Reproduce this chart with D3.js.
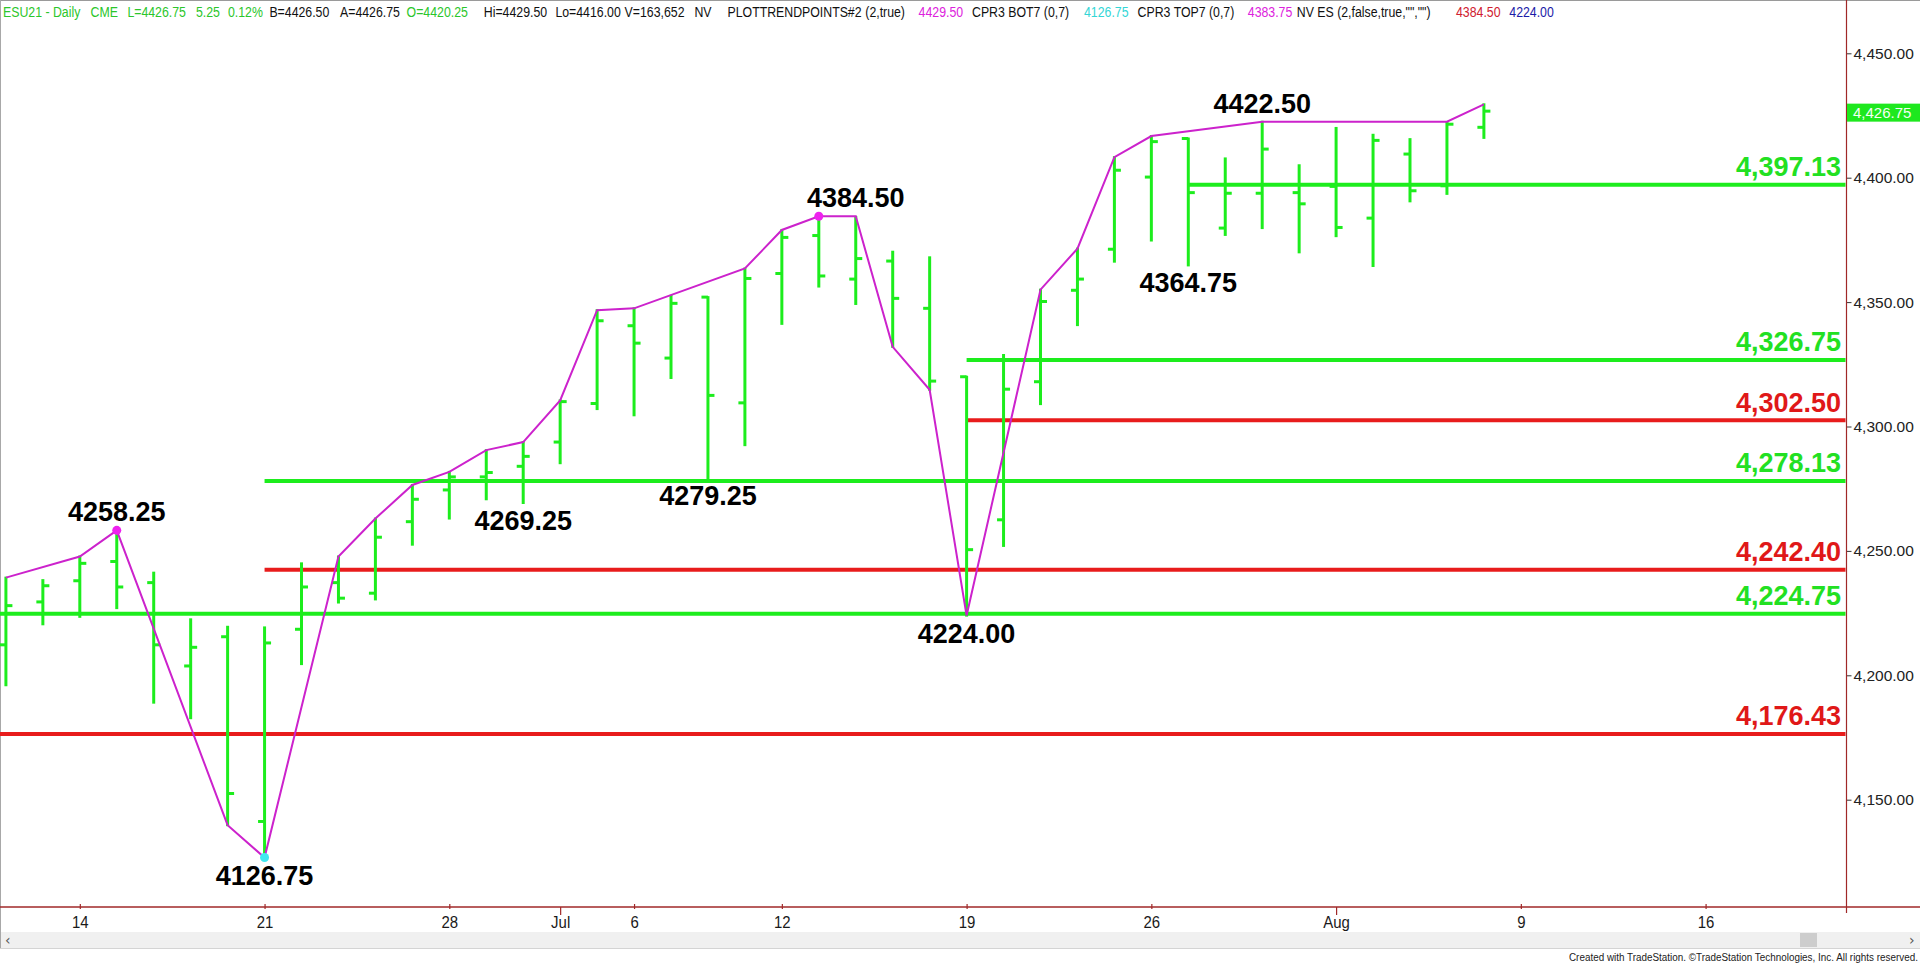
<!DOCTYPE html>
<html><head><meta charset="utf-8">
<script src="https://cdn.jsdelivr.net/npm/d3@7"></script>
<style>html,body{margin:0;padding:0;background:#fff;overflow:hidden}svg{display:block}</style>
</head><body>
<svg id="c" width="1920" height="963"></svg>
<script>
// ---------------- DATA ----------------
const dates = ["Jun 10","Jun 11","Jun 14","Jun 15","Jun 16","Jun 17","Jun 18","Jun 21","Jun 22","Jun 23","Jun 24","Jun 25","Jun 28","Jun 29","Jun 30","Jul 1","Jul 2","Jul 6","Jul 7","Jul 8","Jul 9","Jul 12","Jul 13","Jul 14","Jul 15","Jul 16","Jul 19","Jul 20","Jul 21","Jul 22","Jul 23","Jul 26","Jul 27","Jul 28","Jul 29","Jul 30","Aug 2","Aug 3","Aug 4","Aug 5","Aug 6"];
const opens  = [4212.25,4229.5,4238,4245.75,4237.25,4203.75,4215.5,4141.25,4218.5,4237.25,4233,4261.75,4274.5,4279.75,4284,4293.75,4309.25,4340.5,4327.5,4352,4309.5,4361.5,4376.75,4359.25,4366.5,4347.5,4320,4262.5,4318,4354.75,4371.25,4400.25,4415.75,4379.75,4393.75,4394,4396.5,4383.75,4409.5,4396.75,4420.25];
const highs  = [4239.25,4238.25,4247.75,4258.25,4241.25,4222.5,4219.5,4219.25,4245,4247.75,4263,4276.5,4281.75,4290.5,4293.75,4310.5,4346.75,4347.5,4352.5,4352,4363.5,4379,4384.5,4384.25,4370.25,4368,4320,4328.75,4355,4371.5,4408.25,4416.75,4415.75,4407.75,4422.5,4405,4420,4417.25,4415.5,4422,4429.5];
const lows   = [4196,4220.5,4223.5,4227,4189,4182.75,4139.75,4126.75,4204.5,4229.25,4230.5,4252.5,4263,4270.75,4269.25,4285.25,4307,4304.5,4319.5,4279.25,4292.5,4341.25,4356.25,4349.25,4332,4314.75,4224,4252,4309,4340.75,4366.25,4374.75,4364.75,4377,4379.75,4370,4376.5,4364.5,4390.5,4393.5,4416];
const closes = [4228,4236,4245,4235.5,4212.25,4211.25,4152.5,4213,4235.5,4231,4255.5,4270.75,4279.75,4281.5,4288,4310,4342.5,4333.5,4349.5,4312.5,4359.5,4376,4360.5,4367.5,4351.5,4318.25,4250.5,4315,4350.25,4359.25,4403,4414.5,4394,4393.75,4411.5,4389.5,4380,4415,4394.75,4421.5,4426.75];

// trend-point zigzag (bar index, price)
const trendIdx = [0,2,3,6,7,9,10,11,12,13,14,15,16,17,20,21,22,23,24,25,26,28,29,30,31,34,39,40];
const trendVal = [4239.25,4247.75,4258.25,4139.75,4126.75,4247.75,4263,4276.5,4281.75,4290.5,4293.75,4310.5,4346.75,4347.5,4363.5,4379,4384.5,4384.5,4332,4314.75,4224,4355,4371.5,4408.25,4416.75,4422.5,4422.5,4429.5];

// pivot markers
const pivotIdx  = [3, 7, 22];
const pivotVal  = [4258.25, 4126.75, 4384.5];
const pivotKind = ["top", "bottom", "top"];

// horizontal levels
const levelVal   = [4397.13, 4326.75, 4302.50, 4278.13, 4242.40, 4224.75, 4176.43];
const levelStart = [32, 26, 26, 7, 7, null, null];   // bar index where level begins (null = chart start)
const levelKind  = ["support","support","resistance","support","resistance","support","resistance"];

// swing annotations
const annIdx  = [3, 7, 14, 19, 23, 26, 32, 34];
const annVal  = [4258.25, 4126.75, 4269.25, 4279.25, 4384.50, 4224.00, 4364.75, 4422.50];
const annSide = ["above","below","below","below","above","below","below","above"];

// axes
const xTickIdx    = [2, 7, 12, 15, 17, 21, 26, 31, 36, 41, 46];
const xTickLabels = ["14","21","28","Jul","6","12","19","26","Aug","9","16"];
const xTickMajor  = [false,false,false,true,false,false,false,false,true,false,false];
const yTicks = [4150, 4200, 4250, 4300, 4350, 4400, 4450];
const lastPrice = 4426.75;

// header status line
const headerText  = ["ESU21 - Daily","CME","L=4426.75","5.25","0.12%","B=4426.50","A=4426.75","O=4420.25","Hi=4429.50","Lo=4416.00","V=163,652","NV","PLOTTRENDPOINTS#2","(2,true)","4429.50","CPR3 BOT7 (0,7)","4126.75","CPR3 TOP7 (0,7)","4383.75","NV ES (2,false,true,\"\",\"\")","4384.50","4224.00"];
const headerColor = ["g","g","g","g","g","k","k","g","k","k","k","k","k","k","m","k","c","k","m","k","r","b"];
const headerX     = [3,90.6,127.4,196,228,269.4,340,406.6,483.8,555.4,624.6,694.4,727.5,865.3,918.6,972,1084,1137.6,1247.8,1296.8,1456,1509.3];

// ---------------- STYLE ----------------
const GREEN = "#1ded1d", RED = "#e81c1c", MAG = "#cc22cc", AXIS = "#a02828";
const hdrCol = {g:"#2bc62b", k:"#111", m:"#dd22dd", c:"#33d6d6", r:"#d02030", b:"#1c1ca8"};

const svg = d3.select("#c");
const W = 1920, H = 963, axisX = 1846.5, axisY = 907;

const x = d3.scaleLinear().domain([-0.16, 49.8]).range([0, 1846]);
const y = d3.scaleLinear().domain([4150, 4450]).range([799.7, 53.3]);

const bars = dates.map((d,i)=>({i, o:opens[i], h:highs[i], l:lows[i], c:closes[i]}));

// frame
svg.append("rect").attr("width",W).attr("height",H).attr("fill","#fff");
svg.append("line").attr("x1",0).attr("x2",W).attr("y1",0.5).attr("y2",0.5).attr("stroke","#9a9a9a");
svg.append("line").attr("x1",0.5).attr("x2",0.5).attr("y1",0).attr("y2",948).attr("stroke","#a8a8a8");

const plot = svg.append("g");

// levels
const lv = levelVal.map((v,k)=>({v, s:levelStart[k], kind:levelKind[k]}));
plot.selectAll(".lvl").data(lv).join("line")
  .attr("x1", d => d.s === null ? 0 : x(d.s))
  .attr("x2", axisX - 1)
  .attr("y1", d => y(d.v)).attr("y2", d => y(d.v))
  .attr("stroke", d => d.kind === "support" ? GREEN : RED)
  .attr("stroke-width", 4);

// OHLC bars
const bg = plot.selectAll(".bar").data(bars).join("g").attr("stroke", GREEN).attr("stroke-width", 3);
bg.append("line").attr("x1",d=>x(d.i)).attr("x2",d=>x(d.i)).attr("y1",d=>y(d.h)-1).attr("y2",d=>y(d.l)+1);
bg.append("line").attr("x1",d=>x(d.i)-6.5).attr("x2",d=>x(d.i)).attr("y1",d=>y(d.o)).attr("y2",d=>y(d.o));
bg.append("line").attr("x1",d=>x(d.i)).attr("x2",d=>x(d.i)+6.5).attr("y1",d=>y(d.c)).attr("y2",d=>y(d.c));

// trend zigzag
const tp = trendIdx.map((t,k)=>[t, trendVal[k]]);
plot.append("path").datum(tp)
  .attr("d", d3.line().x(d=>x(d[0])).y(d=>y(d[1])))
  .attr("fill","none").attr("stroke",MAG).attr("stroke-width",2).attr("stroke-linejoin","miter");

// pivot dots
plot.selectAll(".piv").data(pivotIdx.map((p,k)=>({p, v:pivotVal[k], kind:pivotKind[k]}))).join("circle")
  .attr("cx", d=>x(d.p)).attr("cy", d=>y(d.v)).attr("r", 4.5)
  .attr("fill", d => d.kind === "top" ? "#ee22ee" : "#40e8f0");

// level labels
plot.selectAll(".lvlt").data(lv).join("text")
  .attr("x", 1841).attr("y", d => y(d.v) - 8.5)
  .attr("text-anchor","end")
  .attr("font-family","'Liberation Sans', Arial, sans-serif").attr("font-weight","bold").attr("font-size", 27)
  .attr("fill", d => d.kind === "support" ? "#22e022" : "#e01818")
  .text(d => d3.format(",.2f")(d.v));

// swing annotations
plot.selectAll(".ann").data(annIdx.map((a,k)=>({a, v:annVal[k], side:annSide[k]}))).join("text")
  .attr("x", d => x(d.a))
  .attr("y", d => d.side === "above" ? y(d.v) - 9 : y(d.v) + 27)
  .attr("text-anchor","middle")
  .attr("font-family","'Liberation Sans', Arial, sans-serif").attr("font-weight","bold").attr("font-size", 27)
  .attr("fill","#000")
  .text(d => d.v.toFixed(2));

// right price axis
const ya = svg.append("g").attr("transform", `translate(${axisX},0)`)
  .call(d3.axisRight(y).tickValues(yTicks).tickFormat(d3.format(",.2f")).tickSize(5).tickPadding(2));
ya.select(".domain").remove();
ya.selectAll("line").attr("stroke","#333");
ya.selectAll("text").attr("font-family","'Liberation Sans', Arial, sans-serif").attr("font-size",15.5).attr("fill","#222");
svg.append("line").attr("x1",axisX).attr("x2",axisX).attr("y1",0).attr("y2",913).attr("stroke",AXIS).attr("stroke-width",1.2);

// last price tag
svg.append("rect").attr("x",1847).attr("y",y(lastPrice)-7.5).attr("width",73).attr("height",18).attr("fill","#1ee81e");
svg.append("text").attr("x",1853).attr("y",y(lastPrice)+7).attr("font-family","'Liberation Sans', Arial, sans-serif")
  .attr("font-size",15).attr("fill","#f4fff4").text(d3.format(",.2f")(lastPrice));

// bottom date axis
const xa = svg.append("g").attr("transform", `translate(0,${axisY})`)
  .call(d3.axisBottom(x).tickValues(xTickIdx).tickFormat((d,k)=>xTickLabels[k]).tickSize(0).tickSizeOuter(0));
xa.select(".domain").remove();
xa.selectAll(".tick line")
  .attr("y1", (d,k) => xTickMajor[k] ? 0 : -3)
  .attr("y2", (d,k) => xTickMajor[k] ? 8 : 2)
  .attr("stroke", AXIS).attr("stroke-width",1.2);
xa.selectAll(".tick text")
  .attr("y", 21).attr("dy", 0)
  .attr("transform","scale(0.88,1)")
  .attr("font-family","'Liberation Sans', Arial, sans-serif").attr("font-size",17).attr("fill","#1a1a1a");
svg.append("line").attr("x1",0).attr("x2",W).attr("y1",axisY).attr("y2",axisY).attr("stroke",AXIS).attr("stroke-width",1.4);

// scrollbar strip
svg.append("rect").attr("x",1).attr("y",932).attr("width",W-1).attr("height",16).attr("fill","#f0f0f0");
svg.append("line").attr("x1",0).attr("x2",W).attr("y1",948.5).attr("y2",948.5).attr("stroke","#d4d4d4");
svg.append("rect").attr("x",1800).attr("y",933).attr("width",17).attr("height",14).attr("fill","#cdcdcd");
svg.append("text").attr("x",5).attr("y",945).attr("font-family","'DejaVu Sans', sans-serif").attr("font-size",14).attr("fill","#555").text("‹");
svg.append("text").attr("x",1909).attr("y",945).attr("font-family","'DejaVu Sans', sans-serif").attr("font-size",14).attr("fill","#555").text("›");
svg.append("text").attr("text-anchor","end").attr("transform","translate(1918,961) scale(0.86,1)")
  .attr("font-family","'Liberation Sans', Arial, sans-serif").attr("font-size",11.5).attr("fill","#222")
  .text("Created with TradeStation. ©TradeStation Technologies, Inc. All rights reserved.");

// header
svg.selectAll(".hdr").data(headerText.map((t,k)=>({t, c:headerColor[k], x:headerX[k]}))).join("text")
  .attr("transform", d => `translate(${d.x},17) scale(0.85,1)`)
  .attr("font-family","'Liberation Sans', Arial, sans-serif").attr("font-size",14.5)
  .attr("fill", d => hdrCol[d.c]).text(d => d.t);
</script>
</body></html>
